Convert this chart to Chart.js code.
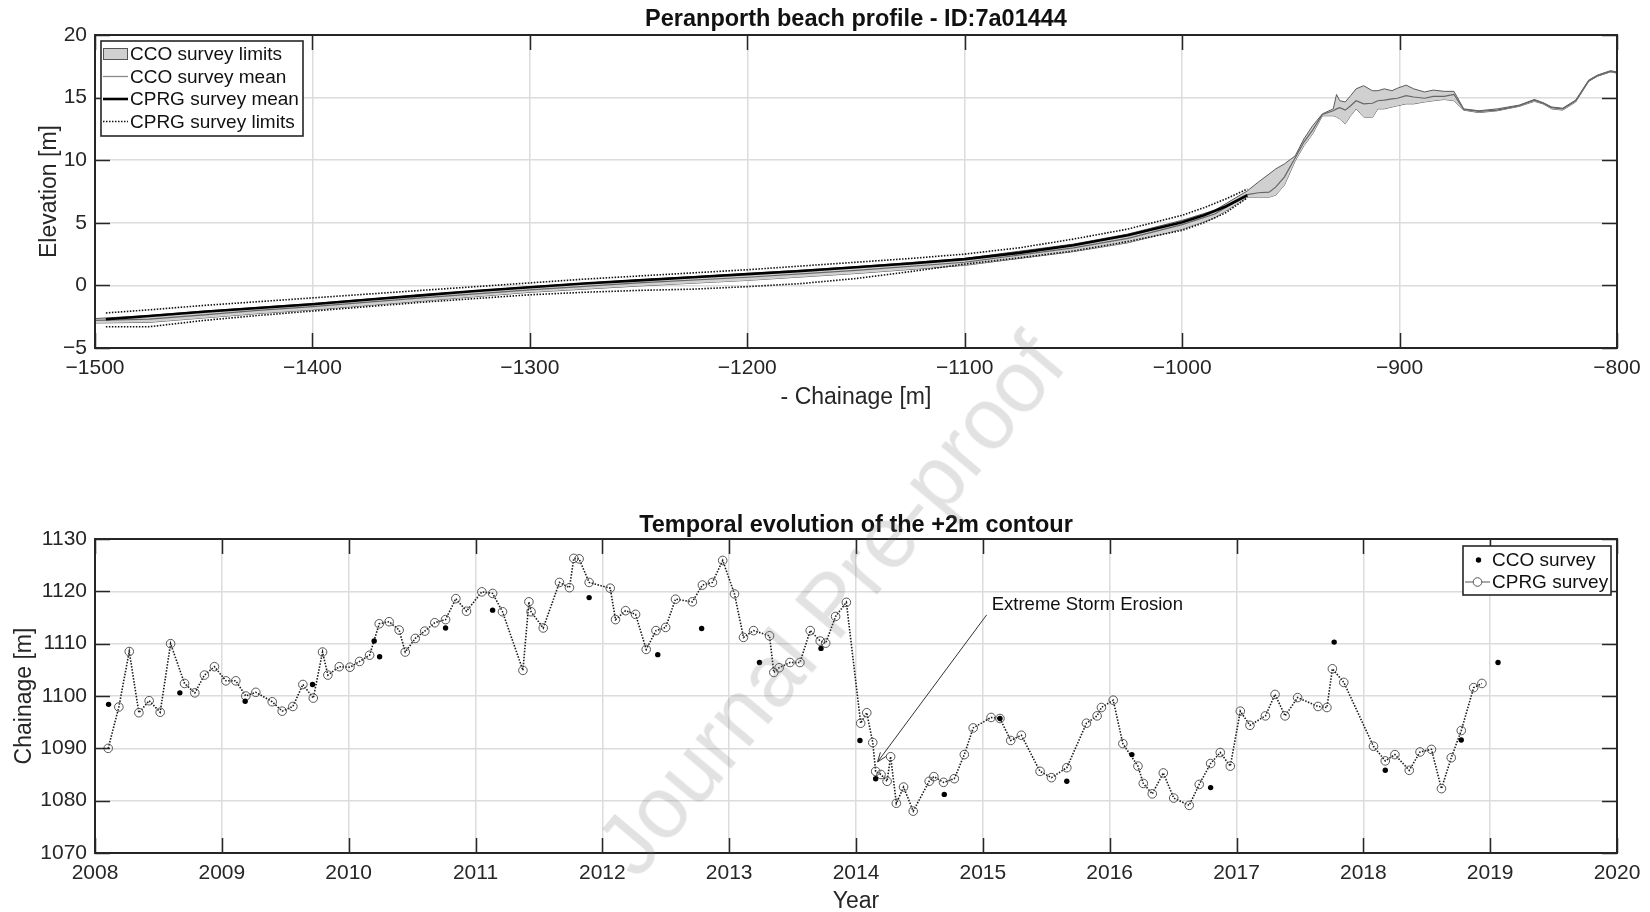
<!DOCTYPE html>
<html>
<head>
<meta charset="utf-8">
<title>Peranporth beach profile</title>
<script src="https://cdn.jsdelivr.net/npm/chart.js@4.4.1/dist/chart.umd.min.js"></script>
<style>
  html, body { margin: 0; padding: 0; background: #fff; }
  body { width: 1650px; height: 912px; position: relative; overflow: hidden; }
  #profileBox { position: absolute; left: 0; top: 0; width: 1650px; height: 440px; }
  #contourBox { position: absolute; left: 0; top: 440px; width: 1650px; height: 472px; }
  canvas { display: block; }
  .wm {
    position: absolute; left: 830px; top: 604px;
    transform: translate(-50%, -50%) rotate(-50deg);
    font: 87px "Liberation Sans", Arial, sans-serif;
    color: rgba(110, 110, 110, 0.2);
    white-space: nowrap; pointer-events: none;
  }
</style>
</head>
<body>
<div id="profileBox"><canvas id="profile" width="1650" height="440"></canvas></div>
<div id="contourBox"><canvas id="contour" width="1650" height="472"></canvas></div>
<div class="wm">Journal Pre-proof</div>
<script>
// ---------- Beach profile (elevation vs. negative chainage) ----------
const cprgX    = [-1495, -1475, -1450, -1425, -1400, -1375, -1350, -1325, -1300, -1275, -1250, -1225,
                  -1200, -1175, -1150, -1125, -1100, -1075, -1050, -1025, -1000, -990, -980, -970];
const cprgMean = [-2.7, -2.45, -2.1, -1.8, -1.5, -1.15, -0.8, -0.45, -0.15, 0.15, 0.4, 0.65,
                  0.9, 1.15, 1.45, 1.75, 2.1, 2.6, 3.2, 4.0, 5.05, 5.6, 6.3, 7.2];
const cprgUp   = [-2.2, -1.95, -1.6, -1.3, -1.0, -0.7, -0.4, -0.1, 0.2, 0.5, 0.75, 1.0,
                  1.25, 1.55, 1.85, 2.15, 2.5, 3.0, 3.7, 4.5, 5.6, 6.2, 6.9, 7.7];
const cprgLo   = [-3.3, -3.3, -2.8, -2.4, -2.05, -1.7, -1.35, -1.05, -0.75, -0.55, -0.4, -0.3,
                  -0.1, 0.15, 0.55, 1.1, 1.7, 2.2, 2.75, 3.5, 4.4, 5.0, 5.8, 7.0];

const ccoX    = [-1500, -1475, -1450, -1425, -1400, -1350, -1300, -1250, -1200, -1150, -1100, -1050,
                 -1025, -1000, -985, -970, -965, -960, -957, -953, -948, -944, -940,
                 -935.5, -930.5, -929, -927.5, -925, -922.5, -920, -916.5, -912.5, -910, -907,
                 -903.5, -901, -897, -893.5, -888.5, -884.5, -879.5, -875, -870.5, -863.5,
                 -855, -845, -838, -834, -830, -825, -819, -813, -809, -803, -800];
const ccoUp   = [-2.65, -2.4, -2.05, -1.75, -1.45, -0.75, -0.1, 0.45, 0.95, 1.5, 2.15, 3.3,
                 4.1, 5.2, 6.0, 7.55, 8.25, 8.9, 9.3, 9.7, 10.35, 11.7, 12.75,
                 13.7, 14.1, 15.25, 14.75, 14.65, 15.15, 15.7, 15.95, 15.55, 15.55, 15.7,
                 15.55, 15.75, 16.0, 15.7, 15.45, 15.6, 15.5, 15.5, 14.1, 13.95,
                 14.1, 14.4, 14.85, 14.6, 14.25, 14.15, 14.8, 16.4, 16.8, 17.15, 17.05];
const ccoLo   = [-3.0, -2.95, -2.6, -2.25, -1.95, -1.25, -0.55, -0.05, 0.4, 0.95, 1.6, 2.7,
                 3.4, 4.5, 5.4, 7.05, 7.05, 7.05, 7.2, 8.0, 9.95, 11.15, 12.1,
                 13.55, 13.55, 13.45, 13.3, 12.9, 13.55, 14.1, 13.45, 13.4, 14.1, 14.1,
                 14.25, 14.35, 14.5, 14.5, 14.65, 14.75, 14.85, 14.75, 14.0, 13.8,
                 13.95, 14.3, 14.7, 14.5, 14.1, 14.0, 14.65, 16.3, 16.7, 17.05, 16.95];
const ccoMean = [-2.8, -2.7, -2.35, -2.0, -1.7, -1.0, -0.35, 0.2, 0.65, 1.2, 1.85, 3.0,
                 3.75, 4.85, 5.7, 7.25, 7.4, 7.45, 7.85, 8.65, 10.2, 11.45, 12.4,
                 13.65, 13.95, 14.1, 14.2, 14.0, 14.35, 14.75, 14.5, 14.55, 14.75, 14.8,
                 14.9, 14.95, 15.15, 15.05, 14.95, 15.1, 15.1, 15.25, 14.05, 13.9,
                 14.0, 14.35, 14.8, 14.55, 14.2, 14.1, 14.75, 16.35, 16.75, 17.1, 17.0];

const chainageTicks  = [-1500, -1400, -1300, -1200, -1100, -1000, -900, -800];
const elevationTicks = [-5, 0, 5, 10, 15, 20];

// ---------- +2 m contour position through time ----------
const cprgYears = [2008.104, 2008.188, 2008.270, 2008.346, 2008.427, 2008.514, 2008.596, 2008.706, 2008.787, 2008.863,
  2008.942, 2009.032, 2009.110, 2009.189, 2009.268, 2009.397, 2009.476, 2009.560, 2009.639, 2009.721,
  2009.794, 2009.836, 2009.926, 2010.010, 2010.086, 2010.165, 2010.241, 2010.319, 2010.398, 2010.446,
  2010.525, 2010.600, 2010.679, 2010.764, 2010.845, 2010.929, 2011.050, 2011.135, 2011.213, 2011.374,
  2011.421, 2011.438, 2011.534, 2011.662, 2011.741, 2011.775, 2011.817, 2011.896, 2012.062, 2012.104,
  2012.183, 2012.262, 2012.346, 2012.423, 2012.499, 2012.577, 2012.710, 2012.789, 2012.868, 2012.949,
  2013.042, 2013.113, 2013.192, 2013.318, 2013.352, 2013.394, 2013.479, 2013.558, 2013.639, 2013.718,
  2013.761, 2013.839, 2013.924, 2014.037, 2014.085, 2014.132, 2014.155, 2014.197, 2014.245, 2014.273,
  2014.318, 2014.375, 2014.451, 2014.577, 2014.614, 2014.690, 2014.775, 2014.854, 2014.924, 2015.065,
  2015.135, 2015.220, 2015.304, 2015.451, 2015.541, 2015.662, 2015.817, 2015.901, 2015.935, 2016.028,
  2016.104, 2016.223, 2016.265, 2016.336, 2016.423, 2016.505, 2016.627, 2016.706, 2016.796, 2016.872,
  2016.951, 2017.030, 2017.106, 2017.228, 2017.304, 2017.383, 2017.482, 2017.643, 2017.713, 2017.756,
  2017.846, 2018.080, 2018.173, 2018.249, 2018.362, 2018.447, 2018.537, 2018.616, 2018.693, 2018.772,
  2018.870, 2018.935];
const cprgContour = [1090.0, 1097.9, 1108.5, 1096.8, 1099.1, 1096.9, 1110.0, 1102.4, 1100.6, 1104.0,
  1105.6, 1102.9, 1102.9, 1100.0, 1100.7, 1098.9, 1097.1, 1098.0, 1102.2, 1099.6,
  1108.4, 1104.0, 1105.6, 1105.5, 1106.6, 1107.8, 1113.8, 1114.2, 1112.6, 1108.4,
  1111.0, 1112.4, 1114.0, 1114.6, 1118.6, 1116.2, 1119.9, 1119.6, 1116.1, 1104.9,
  1118.0, 1116.1, 1113.0, 1121.7, 1120.7, 1126.3, 1126.2, 1121.7, 1120.6, 1114.6,
  1116.3, 1115.6, 1108.9, 1112.5, 1113.1, 1118.5, 1118.0, 1121.2, 1121.7, 1125.9,
  1119.5, 1111.2, 1112.5, 1111.5, 1104.5, 1105.4, 1106.4, 1106.4, 1112.5, 1110.5,
  1110.1, 1115.2, 1117.9, 1094.8, 1096.8, 1091.1, 1085.6, 1085.0, 1083.7, 1088.4,
  1079.5, 1082.6, 1078.0, 1083.7, 1084.6, 1083.5, 1084.2, 1088.8, 1093.9, 1095.9,
  1095.7, 1091.5, 1092.5, 1085.6, 1084.4, 1086.3, 1094.8, 1096.2, 1097.8, 1099.2,
  1090.9, 1086.6, 1083.3, 1081.3, 1085.3, 1080.5, 1079.1, 1083.1, 1087.1, 1089.2,
  1086.6, 1097.1, 1094.4, 1096.2, 1100.3, 1096.2, 1099.7, 1098.0, 1097.8, 1105.2,
  1102.6, 1090.4, 1087.6, 1088.8, 1085.8, 1089.3, 1089.8, 1082.3, 1088.2, 1093.4,
  1101.6, 1102.4];

const ccoYears   = [2008.107, 2008.669, 2009.184, 2009.715, 2010.201, 2010.244, 2010.764, 2011.135,
  2011.896, 2012.437, 2012.783, 2013.239, 2013.724, 2014.031, 2014.155, 2014.696, 2015.135, 2015.662,
  2016.175, 2016.796, 2017.770, 2018.173, 2018.772, 2019.062];
const ccoContour = [1098.4, 1100.6, 1099.0, 1102.2, 1110.5, 1107.5, 1113.0, 1116.4,
  1118.8, 1107.9, 1112.9, 1106.4, 1109.1, 1091.5, 1084.2, 1081.2, 1095.7, 1083.7,
  1088.8, 1082.5, 1110.3, 1085.8, 1091.6, 1106.4];

const yearTicks    = [2008, 2009, 2010, 2011, 2012, 2013, 2014, 2015, 2016, 2017, 2018, 2019, 2020];
const contourTicks = [1070, 1080, 1090, 1100, 1110, 1120, 1130];

// Storm annotation, in data units of the contour plot
const stormLabel = { text: 'Extreme Storm Erosion', x: 2015.07, y: 1117.4 };
const stormArrow = { fromX: 2015.03, fromY: 1115.5, toX: 2014.17, toY: 1087.4 };

// ---------- shared helpers ----------
const FONT = '"Liberation Sans", Arial, Helvetica, sans-serif';
const INK = '#262626';
const pts = (xs, ys) => xs.map((v, i) => ({ x: v, y: ys[i] }));
const tickText = v => (v < 0 ? '\u2212' + Math.abs(v) : String(v));

function hLine(c, y, x0, x1, color, width, dash) {
  c.save();
  c.strokeStyle = color; c.lineWidth = width; c.setLineDash(dash || []);
  c.beginPath(); c.moveTo(x0, y); c.lineTo(x1, y); c.stroke();
  c.restore();
}

// Per-panel decorations: titles, axis titles, legend and annotations
const panelDecor = {
  profile: {
    title: 'Peranporth beach profile - ID:7a01444', titleX: 856, titleY: 26,
    xTitle: '- Chainage [m]', xTitleX: 856, xTitleY: 404,
    yTitle: 'Elevation [m]', yTitleX: 56, yTitleY: 191.5,
    legend: {
      x: 101, y: 41, w: 202, h: 95, textX: 130, rowY: [54, 76.5, 99, 121.5],
      items: [
        { label: 'CCO survey limits', draw: (c, y) => {
            c.fillStyle = '#d0d0d0'; c.fillRect(103, y - 6, 25, 12);
            c.strokeStyle = '#555'; c.lineWidth = 1; c.strokeRect(103.5, y - 5.5, 24, 11); } },
        { label: 'CCO survey mean', draw: (c, y) => hLine(c, y, 103, 128, '#8a8a8a', 1.3) },
        { label: 'CPRG survey mean', draw: (c, y) => hLine(c, y, 103, 128, '#000', 2.6) },
        { label: 'CPRG survey limits', draw: (c, y) => hLine(c, y, 103, 128, '#111', 1.6, [1.5, 1.5]) }
      ]
    }
  },
  contour: {
    title: 'Temporal evolution of the +2m contour', titleX: 856, titleY: 91.5,
    xTitle: 'Year', xTitleX: 856, xTitleY: 467.5,
    yTitle: 'Chainage [m]', yTitleX: 31, yTitleY: 256,
    extra: (chart, ctx) => {
      const { x, y } = chart.scales;
      const x0 = x.getPixelForValue(stormArrow.fromX), y0 = y.getPixelForValue(stormArrow.fromY);
      const x1 = x.getPixelForValue(stormArrow.toX), y1 = y.getPixelForValue(stormArrow.toY);
      ctx.save();
      ctx.strokeStyle = '#333'; ctx.lineWidth = 1;
      ctx.beginPath(); ctx.moveTo(x0, y0); ctx.lineTo(x1, y1); ctx.stroke();
      const ang = Math.atan2(y1 - y0, x1 - x0), hl = 10, hw = 0.35;
      ctx.beginPath();
      ctx.moveTo(x1, y1);
      ctx.lineTo(x1 - hl * Math.cos(ang - hw), y1 - hl * Math.sin(ang - hw));
      ctx.moveTo(x1, y1);
      ctx.lineTo(x1 - hl * Math.cos(ang + hw), y1 - hl * Math.sin(ang + hw));
      ctx.stroke();
      ctx.font = '18.5px ' + FONT;
      ctx.textAlign = 'left'; ctx.textBaseline = 'middle';
      ctx.fillStyle = '#111';
      ctx.fillText(stormLabel.text, x.getPixelForValue(stormLabel.x), y.getPixelForValue(stormLabel.y));
      ctx.restore();
    },
    legend: {
      x: 1463, y: 106, w: 148, h: 49, textX: 1492, rowY: [120, 142],
      items: [
        { label: 'CCO survey', draw: (c, y) => {
            c.fillStyle = '#000'; c.beginPath(); c.arc(1478.5, y, 2.7, 0, Math.PI * 2); c.fill(); } },
        { label: 'CPRG survey', draw: (c, y) => {
            hLine(c, y, 1465, 1473, '#555', 1); hLine(c, y, 1482, 1490, '#555', 1);
            c.strokeStyle = '#555'; c.lineWidth = 1;
            c.beginPath(); c.arc(1477.5, y, 4.3, 0, Math.PI * 2); c.stroke(); } }
      ]
    }
  }
};

// Axes box with inward tick marks on all four sides (drawn over the data)
const axesBox = {
  id: 'axesBox',
  afterDatasetsDraw(chart) {
    const { ctx, chartArea: a, scales } = chart;
    const L = 15;
    ctx.save();
    ctx.strokeStyle = INK;
    ctx.lineWidth = 1.5;
    ctx.beginPath();
    scales.x.ticks.forEach(t => {
      const px = Math.round(scales.x.getPixelForValue(t.value)) + 0.5;
      ctx.moveTo(px, a.bottom); ctx.lineTo(px, a.bottom - L);
      ctx.moveTo(px, a.top); ctx.lineTo(px, a.top + L);
    });
    scales.y.ticks.forEach(t => {
      const py = Math.round(scales.y.getPixelForValue(t.value)) + 0.5;
      ctx.moveTo(a.left, py); ctx.lineTo(a.left + L, py);
      ctx.moveTo(a.right, py); ctx.lineTo(a.right - L, py);
    });
    ctx.stroke();
    ctx.lineWidth = 2;
    ctx.strokeRect(a.left, a.top, a.right - a.left, a.bottom - a.top);
    ctx.restore();
  }
};

const panelText = {
  id: 'panelText',
  afterDraw(chart) {
    const cfg = panelDecor[chart.canvas.id];
    if (!cfg) return;
    const { ctx } = chart;
    ctx.save();
    ctx.fillStyle = '#111';
    ctx.textAlign = 'center';
    ctx.textBaseline = 'alphabetic';
    ctx.font = 'bold 23.5px ' + FONT;
    ctx.fillText(cfg.title, cfg.titleX, cfg.titleY);
    ctx.fillStyle = INK;
    ctx.font = '23px ' + FONT;
    ctx.fillText(cfg.xTitle, cfg.xTitleX, cfg.xTitleY);
    ctx.save();
    ctx.translate(cfg.yTitleX, cfg.yTitleY);
    ctx.rotate(-Math.PI / 2);
    ctx.fillText(cfg.yTitle, 0, 0);
    ctx.restore();
    if (cfg.extra) cfg.extra(chart, ctx);
    const lg = cfg.legend;
    ctx.fillStyle = '#fff';
    ctx.fillRect(lg.x, lg.y, lg.w, lg.h);
    ctx.strokeStyle = INK;
    ctx.lineWidth = 1.6;
    ctx.strokeRect(lg.x, lg.y, lg.w, lg.h);
    lg.items.forEach((it, i) => {
      const cy = lg.rowY[i];
      it.draw(ctx, cy);
      ctx.font = '19px ' + FONT;
      ctx.textAlign = 'left';
      ctx.textBaseline = 'middle';
      ctx.fillStyle = '#111';
      ctx.fillText(it.label, lg.textX, cy + 1);
    });
    ctx.restore();
  }
};

Chart.register(axesBox, panelText);

const tickFont = { family: FONT, size: 21 };
function linearAxis(min, max, step, fitSize, horizontal) {
  return {
    type: 'linear', min, max,
    ticks: {
      stepSize: step, autoSkip: false, maxRotation: 0, padding: 8,
      color: INK, font: tickFont,
      callback: tickText
    },
    grid: { color: '#dcdcdc', lineWidth: 1.5, drawTicks: false },
    border: { display: false },
    afterFit: s => { if (horizontal) s.height = fitSize; else s.width = fitSize; }
  };
}

// ---------- top panel ----------
new Chart(document.getElementById('profile'), {
  type: 'line',
  data: {
    datasets: [
      { label: 'CPRG survey mean', data: pts(cprgX, cprgMean), borderColor: '#000', borderWidth: 2.6, pointRadius: 0, order: 0 },
      { label: 'CPRG survey limits', data: pts(cprgX, cprgUp), borderColor: '#111', borderWidth: 1.6, borderDash: [1.5, 1.5], pointRadius: 0, order: 1 },
      { label: 'CPRG survey limits (lower)', data: pts(cprgX, cprgLo), borderColor: '#111', borderWidth: 1.6, borderDash: [1.5, 1.5], pointRadius: 0, order: 1 },
      { label: 'CCO survey mean', data: pts(ccoX, ccoMean), borderColor: '#666', borderWidth: 1.2, pointRadius: 0, order: 2 },
      { label: 'CCO survey limits', data: pts(ccoX, ccoUp), borderColor: '#5a5a5a', borderWidth: 1, pointRadius: 0,
        fill: '+1', backgroundColor: '#d0d0d0', order: 3 },
      { label: 'CCO survey limits (lower)', data: pts(ccoX, ccoLo), borderColor: '#5a5a5a', borderWidth: 1, pointRadius: 0, order: 3 }
    ]
  },
  options: {
    responsive: false, animation: false, events: [],
    layout: { padding: { top: 35, right: 33, left: 0, bottom: 0 } },
    scales: {
      x: linearAxis(-1500, -800, 100, 92, true),
      y: linearAxis(-5, 20, 5, 95, false)
    },
    plugins: { legend: { display: false }, tooltip: { enabled: false }, filler: { propagate: false } }
  }
});

// ---------- bottom panel ----------
new Chart(document.getElementById('contour'), {
  type: 'line',
  data: {
    datasets: [
      { label: 'CCO survey', data: pts(ccoYears, ccoContour), showLine: false, pointRadius: 2.7,
        pointBackgroundColor: '#000', pointBorderWidth: 0, order: 0 },
      { label: 'CPRG survey', data: pts(cprgYears, cprgContour), borderColor: '#1a1a1a', borderWidth: 1.6,
        borderDash: [1.5, 1.5], pointRadius: 4.3, pointBorderColor: '#555', pointBorderWidth: 1,
        pointBackgroundColor: 'rgba(0,0,0,0)', order: 1 }
    ]
  },
  options: {
    responsive: false, animation: false, events: [],
    layout: { padding: { top: 99, right: 33, left: 0, bottom: 0 } },
    scales: {
      x: linearAxis(2008, 2020, 1, 59, true),
      y: linearAxis(1070, 1130, 10, 95, false)
    },
    plugins: { legend: { display: false }, tooltip: { enabled: false } }
  }
});
</script>
</body>
</html>
